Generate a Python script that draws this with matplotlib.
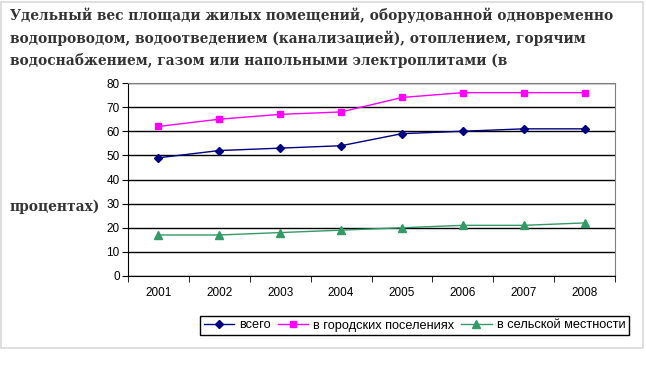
import numpy as np
import matplotlib.pyplot as plt
from matplotlib.patches import Rectangle

# Удельный вес площади жилых помещений (в процентах)
years = ['2001', '2002', '2003', '2004', '2005', '2006', '2007', '2008']
total = [49, 52, 53, 54, 59, 60, 61, 61]
urban = [62, 65, 67, 68, 74, 76, 76, 76]
rural = [17, 17, 18, 19, 20, 21, 21, 22]

labels = ['всего', 'в городских поселениях', 'в сельской местности']
title_lines = ['Удельный вес площади жилых помещений, оборудованной одновременно',
               'водопроводом, водоотведением (канализацией), отоплением, горячим',
               'водоснабжением, газом или напольными электроплитами (в']
title_tail = 'процентах)'

W, H = 646, 369
fig = plt.figure(figsize=(W / 100, H / 100), dpi=100)

# page frame
fig.patches.append(Rectangle((1 / W, 1 - 348 / H), 642 / W, 346 / H, transform=fig.transFigure,
                             fill=False, edgecolor='#d9d9d9', linewidth=1.2))

ax = fig.add_axes([128 / W, 1 - 276 / H, 487 / W, 193 / H])
x = np.arange(len(years))

ax.plot(x, total, color='#000080', marker='D', markersize=4, linewidth=1, label=labels[0])
ax.plot(x, urban, color='#FF00FF', marker='s', markersize=5, linewidth=1, label=labels[1])
ax.plot(x, rural, color='#339966', marker='^', markersize=5.5, linewidth=1, label=labels[2])

ax.set_xlim(-0.5, len(years) - 0.5)
ax.set_ylim(0, 80)
ax.set_yticks(np.arange(0, 81, 10))
ax.yaxis.grid(True, color='black', linewidth=1)
ax.set_axisbelow(True)
ax.set_xticks(x)
ax.set_xticklabels(years)
ax.set_xticks(np.arange(-0.5, len(years)), minor=True)
ax.tick_params(axis='x', which='major', length=0, pad=8)
ax.tick_params(axis='x', which='minor', length=4, direction='out', color='black')
ax.tick_params(axis='y', length=4, direction='out', color='black', pad=2)
ax.tick_params(labelsize=8.5)
for lab in ax.get_xticklabels() + ax.get_yticklabels():
    lab.set_fontfamily('Liberation Sans')

ax.spines['left'].set_color('black')
ax.spines['bottom'].set_color('black')
ax.spines['top'].set_color('#808080')
ax.spines['right'].set_color('#808080')

leg = ax.legend(loc='center', bbox_to_anchor=(414.5 / W, 1 - 325.5 / H), bbox_transform=fig.transFigure,
                ncol=3, frameon=True, fancybox=False, edgecolor='black', framealpha=1,
                prop={'family': 'Liberation Sans', 'size': 9.2}, handlelength=2.4,
                handletextpad=0.4, columnspacing=0.5, borderpad=0.3, borderaxespad=0)
leg.get_frame().set_linewidth(1)

for i, line in enumerate(title_lines):
    fig.text(10 / W, 1 - (15 + 23 * i) / H, line, fontsize=11, fontweight='bold',
             family='DejaVu Serif', stretch='condensed', color='#333333', va='center', ha='left')
fig.text(10 / W, 1 - 207 / H, title_tail, fontsize=11, fontweight='bold',
         family='DejaVu Serif', stretch='condensed', color='#333333', va='center', ha='left')

fig.savefig('out.png', dpi=100)
